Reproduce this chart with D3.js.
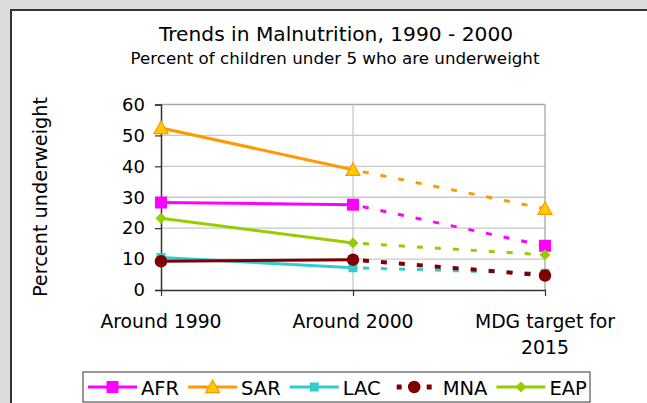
<!DOCTYPE html>
<html>
<head>
<meta charset="utf-8">
<script src="https://cdn.jsdelivr.net/npm/d3@7"></script>
<style>
body { margin: 0; background: #dcdcdc; }
svg { display: block; font-family: "DejaVu Sans", Verdana, sans-serif; }
</style>
</head>
<body>
<svg id="chart" width="647" height="403"></svg>
<script>
// categories and values
var periods = ["Around 1990", "Around 2000", "MDG target for 2015"];
var regions = ["AFR", "SAR", "LAC", "MNA", "EAP"];
var afr = [28.3, 27.6, 14.3];
var sar = [52.4, 38.9, 26.3];
var lac = [10.5, 7.2, 5.4];
var mna = [9.3, 9.8, 4.7];
var eap = [23.2, 15.2, 11.4];
var yTicks = [0, 10, 20, 30, 40, 50, 60];

var series = [
	{name: "AFR", values: afr, color: "#ff00ff", marker: "square", size: 12, fill: "#ff00ff"},
	{name: "SAR", values: sar, color: "#ff9900", marker: "triangle", size: 14, fill: "#ffcc00"},
	{name: "LAC", values: lac, color: "#33cccc", marker: "square", size: 9, fill: "#33cccc"},
	{name: "MNA", values: mna, color: "#800000", marker: "circle", size: 12.5, fill: "#800000"},
	{name: "EAP", values: eap, color: "#99cc00", marker: "diamond", size: 11, fill: "#99cc00"}
];

var svg = d3.select("#chart");

// chart frame
svg.append("rect")
	.attr("x", 11).attr("y", 10)
	.attr("width", 700).attr("height", 500)
	.attr("fill", "#fff")
	.attr("stroke", "#333")
	.attr("stroke-width", 2);

// titles
svg.append("text")
	.attr("x", 336).attr("y", 41)
	.attr("text-anchor", "middle")
	.attr("font-size", 20.2)
	.text("Trends in Malnutrition, 1990 - 2000");
svg.append("text")
	.attr("x", 335).attr("y", 63.5)
	.attr("text-anchor", "middle")
	.attr("font-size", 16.7)
	.text("Percent of children under 5 who are underweight");

var x = d3.scalePoint().domain(periods).range([161, 545]);
var y = d3.scaleLinear().domain([0, 60]).range([290, 104.5]);

// gridlines
svg.append("g")
	.selectAll("line")
	.data(yTicks.slice(1))
	.enter().append("line")
	.attr("x1", 161).attr("x2", 545)
	.attr("y1", d => y(d)).attr("y2", d => y(d))
	.attr("stroke", d => d == 60 ? "#a6a6a6" : "#c8c8c8")
	.attr("stroke-width", 1.3);
svg.append("g")
	.selectAll("line")
	.data(periods.slice(1))
	.enter().append("line")
	.attr("x1", d => x(d)).attr("x2", d => x(d))
	.attr("y1", y(60)).attr("y2", y(0))
	.attr("stroke", (d, i) => i == 1 ? "#a6a6a6" : "#c8c8c8")
	.attr("stroke-width", 1.3);

// y axis
var yAxis = svg.append("g")
	.attr("transform", "translate(161,0)")
	.call(d3.axisLeft(y).tickValues(yTicks).tickSize(6).tickPadding(10));
yAxis.select(".domain").attr("stroke", "#333").attr("stroke-width", 1.5);
yAxis.selectAll(".tick line").attr("stroke", "#333").attr("stroke-width", 1.2);
yAxis.selectAll(".tick text")
	.attr("font-size", 18)
	.attr("font-family", "DejaVu Sans, Verdana, sans-serif")
	.attr("fill", "#000");

// x axis
var xAxis = svg.append("g")
	.attr("transform", "translate(0," + y(0) + ")")
	.call(d3.axisBottom(x).tickSize(6).tickSizeOuter(0).tickFormat(""));
xAxis.select(".domain").attr("stroke", "#333").attr("stroke-width", 1.5);
xAxis.selectAll(".tick line").attr("stroke", "#333").attr("stroke-width", 1.2);

// category labels, wrapped like the original
var xLabels = svg.append("g")
	.selectAll("text")
	.data(periods)
	.enter().append("text")
	.attr("text-anchor", "middle")
	.attr("font-size", 18.8)
	.attr("x", d => x(d))
	.attr("y", 328);
xLabels.each(function(d) {
	var lines = d == "MDG target for 2015" ? ["MDG target for", "2015"] : [d];
	var t = d3.select(this);
	lines.forEach(function(s, i) {
		t.append("tspan").attr("x", x(d)).attr("dy", i == 0 ? 0 : 26).text(s);
	});
});

// y axis title
svg.append("text")
	.attr("transform", "translate(47,197) rotate(-90)")
	.attr("text-anchor", "middle")
	.attr("font-size", 19.3)
	.text("Percent underweight");

function drawMarker(g, s, cx, cy) {
	var r = s.size / 2;
	if (s.marker == "square") {
		g.append("rect").attr("x", cx - r).attr("y", cy - r)
			.attr("width", s.size).attr("height", s.size)
			.attr("fill", s.fill);
	} else if (s.marker == "circle") {
		g.append("circle").attr("cx", cx).attr("cy", cy).attr("r", r)
			.attr("fill", s.fill);
	} else if (s.marker == "triangle") {
		g.append("path")
			.attr("d", "M" + cx + "," + (cy - r) + "L" + (cx + r) + "," + (cy + r * 0.8) + "L" + (cx - r) + "," + (cy + r * 0.8) + "Z")
			.attr("fill", s.fill).attr("stroke", s.color).attr("stroke-width", 1.2);
	} else if (s.marker == "diamond") {
		g.append("path")
			.attr("d", "M" + cx + "," + (cy - r) + "L" + (cx + r) + "," + cy + "L" + cx + "," + (cy + r) + "L" + (cx - r) + "," + cy + "Z")
			.attr("fill", s.fill);
	}
}

var line = d3.line().x(d => x(d.p)).y(d => y(d.v));

// series: solid for measured, dashed towards target
var plot = svg.append("g");
series.forEach(function(s) {
	var pts = s.values.map((v, i) => ({p: periods[i], v: v}));
	plot.append("path")
		.datum(pts.slice(0, 2))
		.attr("d", line)
		.attr("fill", "none")
		.attr("stroke", s.color)
		.attr("stroke-width", 3);
	plot.append("path")
		.datum(pts.slice(1))
		.attr("d", line)
		.attr("fill", "none")
		.attr("stroke", s.color)
		.attr("stroke-width", s.name == "MNA" ? 4 : 3)
		.attr("stroke-dasharray", "6,12")
		.attr("stroke-dashoffset", -10);
});
series.forEach(function(s) {
	s.values.forEach(function(v, i) {
		drawMarker(plot, s, x(periods[i]), y(v));
	});
});

// legend
var legend = svg.append("g");
var box = legend.append("rect")
	.attr("x", 83).attr("y", 372)
	.attr("width", 507).attr("height", 30)
	.attr("fill", "#fff")
	.attr("stroke", "#333")
	.attr("stroke-width", 1);
var lx = 88;
var ly = 387;
series.forEach(function(s) {
	var g = legend.append("g");
	if (s.name == "MNA") {
		g.append("rect").attr("x", lx + 7).attr("y", ly - 2.5).attr("width", 5).attr("height", 5).attr("fill", s.color);
		g.append("rect").attr("x", lx + 37).attr("y", ly - 2.5).attr("width", 5).attr("height", 5).attr("fill", s.color);
	} else {
		g.append("line")
			.attr("x1", lx).attr("x2", lx + 49)
			.attr("y1", ly).attr("y2", ly)
			.attr("stroke", s.color).attr("stroke-width", 3);
	}
	drawMarker(g, s, lx + 24.5, ly);
	var t = g.append("text")
		.attr("x", lx + 53).attr("y", ly + 7.5)
		.attr("font-size", 19.5)
		.text(s.name);
	lx += 53 + t.node().getComputedTextLength() + 9;
});
</script>
</body>
</html>
